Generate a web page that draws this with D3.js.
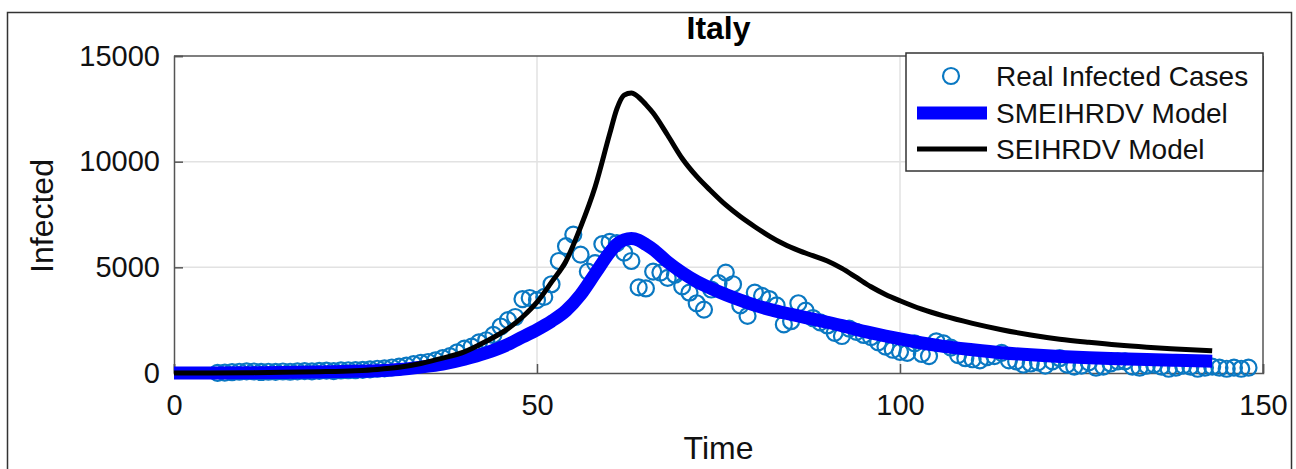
<!DOCTYPE html>
<html>
<head>
<meta charset="utf-8">
<script src="https://cdn.jsdelivr.net/npm/d3@7"></script>
<style>
  body { margin: 0; background: #fff; }
  svg { display: block; font-family: "Liberation Sans", Arial, Helvetica, sans-serif; }
</style>
</head>
<body>
<svg id="chart" width="1296" height="469"></svg>
<script>
// observed daily infected cases, starting at day 6
var realStartDay = 6;
var realCases = [
  3, 20, 40, 60, 80, 70, 50, 60, 55, 70,            // 6-15
  60, 80, 90, 80, 100, 110, 90, 120, 130, 140,      // 16-25
  150, 170, 200, 220, 260, 300, 350, 420, 480, 520, // 26-35
  600, 700, 800, 980, 1150, 1250, 1450, 1550, 1800, 2200, // 36-45
  2500, 2650, 3500, 3550, 3450, 3600, 4200, 5300, 6000, 6550, // 46-55
  5600, 4800, 5200, 6100, 6200, 6150, 5700, 5300, 4050, 4000, // 56-65
  4800, 4750, 4500, 4650, 4100, 3800, 3300, 3000, 3950, 4250, // 66-75
  4750, 4200, 3200, 2700, 3800, 3650, 3500, 3200, 2300, 2450, // 76-85
  3300, 2950, 2600, 2400, 2250, 1900, 1750, 2100, 1950, 1800, // 86-95
  1700, 1450, 1250, 1100, 1000, 950, 1400, 900, 800, 1500,    // 96-105
  1400, 1200, 850, 700, 650, 600, 750, 800, 950, 600,         // 106-115
  550, 400, 450, 500, 350, 550, 700, 400, 300, 350,           // 116-125
  500, 250, 300, 450, 550, 550, 300, 250, 350, 400,           // 126-135
  300, 200, 250, 350, 300, 200, 250, 300, 250, 200,           // 136-145
  250, 200, 250                                              // 146-148
];

// model curves, read at selected days
var modelDays = [0, 5, 10, 15, 20, 25, 28, 31, 34, 37, 40, 43, 46, 48, 50, 52, 54, 56, 58, 60,
  61, 62, 63, 64, 65, 66, 68, 70, 72, 74, 76, 78, 80, 82, 84, 86, 88, 90, 92, 94, 96,
  98, 100, 103, 106, 110, 114, 118, 122, 126, 130, 134, 138, 143];
var smeihrdv = [0, 5, 12, 25, 45, 80, 110, 170, 280, 420, 650, 950, 1350, 1700, 2050, 2450, 2950, 3700, 4700, 5700,
  6100, 6300, 6360, 6280, 6080, 5850, 5250, 4750, 4330, 4000, 3710, 3450, 3210, 3010, 2850, 2700, 2550, 2400, 2240, 2060, 1900,
  1750, 1610, 1420, 1260, 1100, 960, 860, 785, 725, 675, 635, 600, 560];
var seihrdv = [0, 5, 15, 30, 60, 110, 170, 270, 450, 700, 1000, 1500, 2100, 2650, 3350, 4300, 5300, 6900, 8800, 11300,
  12500, 13150, 13250, 13050, 12700, 12300, 11250, 10150, 9300, 8600, 7950, 7400, 6920, 6480, 6100, 5800, 5550, 5300, 4950, 4520, 4080,
  3720, 3420, 3020, 2700, 2350, 2050, 1800, 1600, 1450, 1320, 1220, 1140, 1050];

var xTicks = [0, 50, 100, 150];
var yTicks = [0, 5000, 10000, 15000];
var legendLabels = ["Real Infected Cases", "SMEIHRDV Model", "SEIHRDV Model"];

var svg = d3.select("#chart");
var plotL = 174, plotR = 1263, plotT = 56, plotB = 373;

var x = d3.scaleLinear().domain([0, 150]).range([plotL, plotR]);
var y = d3.scaleLinear().domain([0, 15000]).range([plotB, plotT]);

// outer figure frame
svg.append("rect")
  .attr("x", 7.5).attr("y", 12.5).attr("width", 1284).attr("height", 480)
  .attr("fill", "none").attr("stroke", "#333").attr("stroke-width", 1.5);

// grid
svg.append("g").selectAll("line").data(xTicks.slice(1, -1)).enter().append("line")
  .attr("x1", d => x(d)).attr("x2", d => x(d)).attr("y1", plotT).attr("y2", plotB)
  .attr("stroke", "#e2e2e2").attr("stroke-width", 1.5);
svg.append("g").selectAll("line").data(yTicks.slice(1, -1)).enter().append("line")
  .attr("x1", plotL).attr("x2", plotR).attr("y1", d => y(d)).attr("y2", d => y(d))
  .attr("stroke", "#e2e2e2").attr("stroke-width", 1.5);

// axes (ticks inside like matlab)
var xAxis = d3.axisBottom(x).tickValues(xTicks).tickSize(-9).tickPadding(21).tickFormat(d3.format("d"));
var yAxis = d3.axisLeft(y).tickValues(yTicks).tickSize(-9).tickPadding(14).tickFormat(d3.format("d"));

var gx = svg.append("g").attr("transform", "translate(0," + plotB + ")").call(xAxis);
var gy = svg.append("g").attr("transform", "translate(" + plotL + ",0)").call(yAxis);
[gx, gy].forEach(function (g) {
  g.select(".domain").attr("stroke", "#555").attr("stroke-width", 1.5);
  g.selectAll(".tick line").attr("stroke", "#555").attr("stroke-width", 1.5);
  g.selectAll(".tick text").attr("fill", "#111").style("font-size", "29px")
    .style("font-family", "\"Liberation Sans\", Arial, sans-serif");
});
gx.selectAll(".tick text").attr("dy", "0.71em");

// box top / right
svg.append("line").attr("x1", plotL).attr("x2", plotR).attr("y1", plotT).attr("y2", plotT)
  .attr("stroke", "#555").attr("stroke-width", 1.5);
svg.append("line").attr("x1", plotR).attr("x2", plotR).attr("y1", plotT).attr("y2", plotB)
  .attr("stroke", "#555").attr("stroke-width", 1.5);

// scatter of real cases
svg.append("g").selectAll("circle")
  .data(realCases)
  .enter()
  .append("circle")
  .attr("cx", (d, i) => x(realStartDay + i))
  .attr("cy", d => y(d))
  .attr("r", 8)
  .attr("fill", "none")
  .attr("stroke", "#0a78c2")
  .attr("stroke-width", 2.2);

var line = d3.line()
  .x((d, i) => x(modelDays[i]))
  .y(d => y(d))
  .curve(d3.curveMonotoneX);

svg.append("path").datum(smeihrdv).attr("d", line)
  .attr("fill", "none").attr("stroke", "#0000ff").attr("stroke-width", 13)
  .attr("stroke-linejoin", "round");
svg.append("path").datum(seihrdv).attr("d", line)
  .attr("fill", "none").attr("stroke", "#000").attr("stroke-width", 5)
  .attr("stroke-linejoin", "round");

// title and labels
svg.append("text").attr("x", (plotL + plotR) / 2).attr("y", 39)
  .attr("text-anchor", "middle").style("font-size", "32px").style("font-weight", "bold")
  .attr("fill", "#000").text("Italy");
svg.append("text").attr("x", (plotL + plotR) / 2).attr("y", 459)
  .attr("text-anchor", "middle").style("font-size", "32px").attr("fill", "#111").text("Time");
svg.append("text").attr("transform", "translate(53,216) rotate(-90)")
  .attr("text-anchor", "middle").style("font-size", "32px").attr("fill", "#111").text("Infected");

// legend
var lg = svg.append("g");
lg.append("rect").attr("x", 906).attr("y", 53).attr("width", plotR - 906).attr("height", 118)
  .attr("fill", "#fff").attr("stroke", "#333").attr("stroke-width", 1.5);
var rowY = [76, 113, 149];
lg.append("circle").attr("cx", 951).attr("cy", rowY[0]).attr("r", 8)
  .attr("fill", "none").attr("stroke", "#0a78c2").attr("stroke-width", 2.2);
lg.append("line").attr("x1", 917).attr("x2", 987).attr("y1", rowY[1]).attr("y2", rowY[1])
  .attr("stroke", "#0000ff").attr("stroke-width", 13);
lg.append("line").attr("x1", 917).attr("x2", 987).attr("y1", rowY[2]).attr("y2", rowY[2])
  .attr("stroke", "#000").attr("stroke-width", 5);
lg.selectAll("text.lab").data(legendLabels).enter().append("text").attr("class", "lab")
  .attr("x", 996).attr("y", (d, i) => rowY[i]).attr("dy", "0.36em")
  .style("font-size", "28px").attr("fill", "#111").text(d => d);
</script>
</body>
</html>
